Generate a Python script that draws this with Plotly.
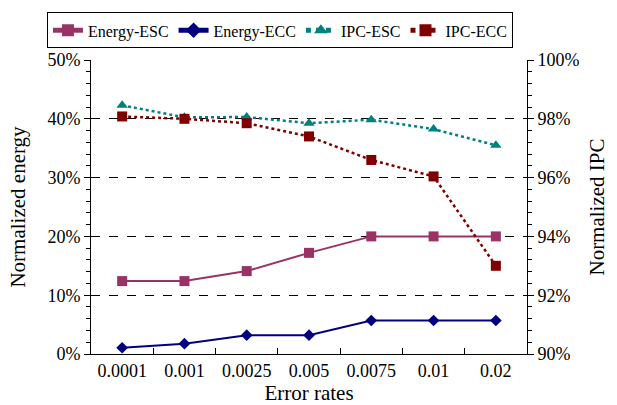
import plotly.graph_objects as go

error_rates = ["0.0001", "0.001", "0.0025", "0.005", "0.0075", "0.01", "0.02"]
energy_esc = [12.4, 12.4, 14.1, 17.2, 20.0, 20.0, 20.0]
energy_ecc = [1.06, 1.75, 3.2, 3.2, 5.7, 5.7, 5.7]
ipc_esc = [98.46, 98.05, 98.06, 97.85, 97.97, 97.65, 97.1]
ipc_ecc = [98.08, 98.0, 97.85, 97.4, 96.6, 96.04, 93.0]

FONT = "Liberation Serif, Times New Roman, serif"

fig = go.Figure()
fig.add_trace(go.Scatter(x=error_rates, y=energy_esc, name="Energy-ESC", mode="lines+markers",
                         line=dict(color="#993366", width=2),
                         marker=dict(symbol="square", size=10, color="#993366")))
fig.add_trace(go.Scatter(x=error_rates, y=energy_ecc, name="Energy-ECC", mode="lines+markers",
                         line=dict(color="#000080", width=2),
                         marker=dict(symbol="diamond", size=9, color="#000080")))
fig.add_trace(go.Scatter(x=error_rates, y=ipc_esc, name="IPC-ESC", mode="lines+markers", yaxis="y2",
                         line=dict(color="#008080", width=2.5, dash="dot"),
                         marker=dict(symbol="triangle-up", size=10, color="#008080")))
fig.add_trace(go.Scatter(x=error_rates, y=ipc_ecc, name="IPC-ECC", mode="lines+markers", yaxis="y2",
                         line=dict(color="#800000", width=2.5, dash="dot"),
                         marker=dict(symbol="square", size=10, color="#800000")))

fig.update_layout(
    width=617, height=405,
    margin=dict(l=91, r=90, t=57, b=51),
    paper_bgcolor="white", plot_bgcolor="white",
    font=dict(family=FONT, size=16, color="black"),
    showlegend=True,
    legend=dict(orientation="h", x=-0.101, y=1.162,
                xanchor="left", yanchor="top", bordercolor="black", borderwidth=1,
                font=dict(size=16), itemwidth=30, tracegroupgap=0,
                itemsizing="constant"),
    xaxis=dict(type="category", range=[-0.5, 6.5], showline=True, linecolor="black", linewidth=1,
               ticks="inside", tickson="boundaries", ticklen=6, tickcolor="black",
               showgrid=False, zeroline=False, automargin=False,
               title=dict(text="Error rates", font=dict(size=21), standoff=9),
               tickfont=dict(size=18)),
    yaxis=dict(range=[0, 50], dtick=10, ticksuffix="%", showline=True, linecolor="black",
               linewidth=1, ticks="outside", ticklen=6, tickcolor="black",
               showgrid=True, gridcolor="black", griddash="dash", gridwidth=1,
               zeroline=False, automargin=False,
               minor=dict(dtick=2, ticks="outside", ticklen=4, tickcolor="black", showgrid=False),
               title=dict(text="Normalized energy", font=dict(size=21), standoff=16),
               tickfont=dict(size=18)),
    yaxis2=dict(range=[90, 100], dtick=2, ticksuffix="%", overlaying="y", side="right",
                showline=True, linecolor="black", linewidth=1, ticks="outside", ticklen=6,
                tickcolor="black", showgrid=False, zeroline=False, automargin=False,
                minor=dict(dtick=0.4, ticks="outside", ticklen=4, tickcolor="black"),
                title=dict(text="Normalized IPC", font=dict(size=21), standoff=10),
                tickfont=dict(size=18)),
)

fig.write_html("out.html")
